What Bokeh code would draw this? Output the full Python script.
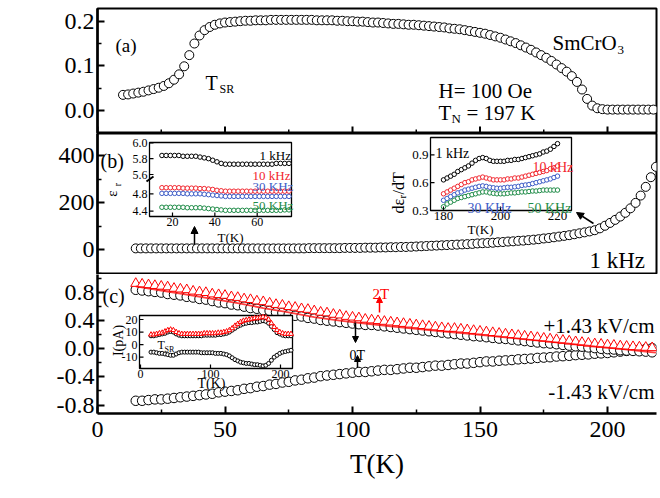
import numpy as np
from bokeh.plotting import figure
from bokeh.layouts import column
from bokeh.models import Range1d, FixedTicker, NumeralTickFormatter, Label, Arrow, NormalHead
from bokeh.core.properties import value
from bokeh.embed import file_html
from bokeh.resources import INLINE

FONT = "Liberation Serif"
RED = "#f2262e"
BLUE = "#3b5bc6"
GREEN = "#1f8c48"
MRED = "#ff0000"

# ---------------- data ----------------
# (a) magnetisation, H = 100 Oe
T_M = np.arange(10, 219, 2)  # 10 ... 218 K
M_emu = [0.035, 0.036, 0.038, 0.040, 0.042, 0.045, 0.048, 0.051, 0.055, 0.061,
         0.069, 0.081, 0.099, 0.124, 0.150, 0.168, 0.180, 0.187, 0.192, 0.195,
         0.197, 0.198, 0.199, 0.200, 0.201, 0.201, 0.202, 0.202, 0.202, 0.203,
         0.203, 0.203, 0.203, 0.203, 0.203, 0.203, 0.203, 0.203, 0.202, 0.202,
         0.202, 0.202, 0.201, 0.201, 0.200, 0.200, 0.199, 0.199, 0.198, 0.197,
         0.197, 0.196, 0.195, 0.194, 0.194, 0.193, 0.192, 0.192, 0.191, 0.190,
         0.189, 0.188, 0.187, 0.186, 0.184, 0.183, 0.182, 0.180, 0.178, 0.176,
         0.174, 0.172, 0.169, 0.166, 0.163, 0.159, 0.155, 0.151, 0.146, 0.141,
         0.136, 0.130, 0.124, 0.118, 0.111, 0.103, 0.095, 0.087, 0.077, 0.064,
         0.047, 0.026, 0.011, 0.005, 0.003, 0.002, 0.002, 0.002, 0.002, 0.002,
         0.002, 0.002, 0.002, 0.002, 0.002]

# (b) dielectric constant at 1 kHz
T_eps = np.arange(15, 220, 2)  # 15 ... 219 K
eps_1k = [6, 6, 6, 6, 6, 6, 6, 6, 6, 6,
          6, 6, 6, 6, 6, 6, 6, 6, 6, 6,
          6, 6, 6, 6, 6, 6, 6, 6, 6, 6,
          6, 6, 6, 6, 7, 7, 7, 7, 7, 7,
          7, 8, 8, 8, 8, 9, 9, 9, 10, 10,
          11, 11, 12, 12, 13, 14, 15, 16, 17, 18,
          19, 20, 21, 22, 23, 24, 25, 27, 28, 29,
          30, 32, 33, 35, 36, 38, 39, 41, 43, 45,
          48, 50, 53, 56, 59, 62, 66, 70, 74, 78,
          83, 91, 102, 114, 127, 141, 157, 176, 199, 230,
          267, 308, 352]

# (b) inset left: eps_r at low T
T_e_low = np.arange(15, 76, 2)  # 15 ... 75 K
e_low_1k = [5.84, 5.84, 5.84, 5.84, 5.84, 5.83, 5.83, 5.83, 5.83, 5.82,
            5.81, 5.80, 5.78, 5.76, 5.74, 5.73, 5.73, 5.73, 5.73, 5.73,
            5.73, 5.73, 5.73, 5.73, 5.73, 5.73, 5.73, 5.74, 5.74, 5.74, 5.74]
e_low_10k = [4.94, 4.94, 4.94, 4.94, 4.94, 4.93, 4.93, 4.93, 4.93, 4.92,
             4.92, 4.91, 4.90, 4.88, 4.87, 4.86, 4.86, 4.86, 4.86, 4.86,
             4.86, 4.86, 4.86, 4.86, 4.86, 4.86, 4.86, 4.86, 4.86, 4.86, 4.86]
e_low_30k = [4.81, 4.81, 4.81, 4.81, 4.81, 4.81, 4.80, 4.80, 4.80, 4.80,
             4.79, 4.78, 4.77, 4.76, 4.75, 4.74, 4.74, 4.74, 4.74, 4.74,
             4.74, 4.74, 4.74, 4.74, 4.74, 4.74, 4.74, 4.74, 4.74, 4.74, 4.74]
e_low_50k = [4.49, 4.49, 4.49, 4.49, 4.49, 4.49, 4.48, 4.48, 4.48, 4.48,
             4.47, 4.46, 4.45, 4.44, 4.43, 4.42, 4.42, 4.42, 4.42, 4.42,
             4.42, 4.42, 4.42, 4.42, 4.42, 4.42, 4.42, 4.42, 4.42, 4.43, 4.43]
e_low_xticks = [20, 40, 60]
e_low_hi_ticks = [5.6, 5.8, 6.0]
e_low_lo_ticks = [4.4, 4.8]

# (b) inset right: d eps_r / dT near T_N
T_de = np.arange(180, 220.01, 1.25)  # 180 ... 220 K
de_1k = [0.63, 0.65, 0.67, 0.69, 0.72, 0.74, 0.76, 0.78, 0.81, 0.84, 0.86,
         0.87, 0.86, 0.84, 0.83, 0.83, 0.83, 0.83, 0.84, 0.84, 0.85, 0.85,
         0.86, 0.87, 0.88, 0.89, 0.90, 0.91, 0.93, 0.94, 0.96, 0.99, 1.02]
de_10k = [0.48, 0.50, 0.52, 0.54, 0.56, 0.58, 0.60, 0.61, 0.63, 0.64, 0.65,
          0.66, 0.65, 0.64, 0.63, 0.63, 0.63, 0.63, 0.64, 0.64, 0.65, 0.65,
          0.66, 0.67, 0.68, 0.69, 0.70, 0.71, 0.72, 0.73, 0.75, 0.76, 0.78]
de_30k = [0.41, 0.43, 0.45, 0.47, 0.49, 0.50, 0.52, 0.53, 0.54, 0.55, 0.56,
          0.565, 0.56, 0.55, 0.545, 0.54, 0.54, 0.545, 0.55, 0.55, 0.555, 0.56,
          0.57, 0.575, 0.58, 0.59, 0.60, 0.61, 0.62, 0.63, 0.64, 0.655, 0.67]
de_50k = [0.34, 0.37, 0.39, 0.41, 0.43, 0.44, 0.45, 0.46, 0.47, 0.48, 0.49,
          0.50, 0.50, 0.49, 0.485, 0.48, 0.48, 0.48, 0.485, 0.49, 0.49, 0.495,
          0.50, 0.50, 0.505, 0.51, 0.51, 0.515, 0.52, 0.52, 0.52, 0.52, 0.52]
de_xticks = [180, 200, 220]
de_yticks = [0.3, 0.6, 0.9]

# (c) polarisation
T_P = np.arange(15, 218, 2.5)  # 15 ... 217.5 K
P_pos_0T = [0.84, 0.83, 0.82, 0.81, 0.80, 0.78, 0.77, 0.76, 0.74, 0.73,
            0.71, 0.70, 0.68, 0.66, 0.65, 0.63, 0.62, 0.60, 0.58, 0.57,
            0.55, 0.54, 0.52, 0.51, 0.49, 0.47, 0.46, 0.44, 0.43, 0.41,
            0.40, 0.39, 0.38, 0.37, 0.36, 0.35, 0.34, 0.34, 0.33, 0.32,
            0.31, 0.30, 0.29, 0.28, 0.27, 0.26, 0.25, 0.24, 0.23, 0.22,
            0.21, 0.20, 0.19, 0.18, 0.175, 0.165, 0.155, 0.145, 0.14, 0.13,
            0.12, 0.11, 0.10, 0.09, 0.08, 0.075, 0.065, 0.055, 0.045, 0.035,
            0.03, 0.02, 0.01, 0.0, -0.005, -0.01, -0.02, -0.025, -0.03, -0.035,
            -0.04, -0.05]
P_pos_2T = [0.93, 0.92, 0.91, 0.90, 0.89, 0.88, 0.86, 0.85, 0.84, 0.82,
            0.81, 0.80, 0.78, 0.77, 0.76, 0.74, 0.73, 0.71, 0.70, 0.68,
            0.67, 0.65, 0.63, 0.62, 0.60, 0.59, 0.57, 0.56, 0.54, 0.52,
            0.51, 0.49, 0.48, 0.46, 0.45, 0.44, 0.42, 0.41, 0.40, 0.39,
            0.38, 0.37, 0.36, 0.35, 0.34, 0.33, 0.32, 0.31, 0.30, 0.29,
            0.29, 0.28, 0.27, 0.26, 0.25, 0.24, 0.23, 0.22, 0.21, 0.20,
            0.19, 0.18, 0.17, 0.16, 0.15, 0.14, 0.13, 0.12, 0.11, 0.10,
            0.09, 0.08, 0.07, 0.065, 0.055, 0.05, 0.04, 0.035, 0.03, 0.025,
            0.02, 0.015]
P_neg_0T = [-0.74, -0.74, -0.73, -0.72, -0.72, -0.71, -0.70, -0.69, -0.68, -0.67,
            -0.66, -0.65, -0.64, -0.62, -0.61, -0.60, -0.59, -0.57, -0.56, -0.54,
            -0.53, -0.51, -0.50, -0.48, -0.47, -0.45, -0.44, -0.42, -0.41, -0.39,
            -0.38, -0.37, -0.36, -0.35, -0.34, -0.33, -0.33, -0.32, -0.31, -0.30,
            -0.30, -0.29, -0.28, -0.27, -0.27, -0.26, -0.25, -0.24, -0.24, -0.23,
            -0.22, -0.21, -0.21, -0.20, -0.19, -0.18, -0.18, -0.17, -0.165, -0.16,
            -0.15, -0.145, -0.14, -0.13, -0.125, -0.12, -0.11, -0.105, -0.10, -0.09,
            -0.085, -0.08, -0.07, -0.065, -0.06, -0.05, -0.04, -0.03, -0.02, -0.01,
            0.0, 0.01]
T_fit = [15, 25, 35, 45, 55, 65, 75, 85, 95, 105, 115, 125, 135, 145, 155, 165,
         175, 185, 195, 205, 215, 219]
P_fit = [0.89, 0.83, 0.77, 0.71, 0.65, 0.58, 0.52, 0.45, 0.40, 0.36, 0.32, 0.285,
         0.25, 0.215, 0.18, 0.145, 0.11, 0.075, 0.035, 0.0, -0.04, -0.055]

# (c) inset: pyroelectric current
T_I = np.arange(15, 216, 4)  # 15 ... 215 K
I_2T = [8, 8, 8.5, 9, 9.5, 10.5, 11.5, 12, 11.5, 10,
        9, 8.5, 8.5, 8.5, 8.5, 8.5, 8.5, 8.5, 8.5, 9,
        9, 9, 9, 9, 9.5, 9.5, 10, 10.5, 11.5, 13,
        15, 16.5, 18, 19, 19.5, 20, 20.5, 21, 21, 21.5,
        22, 21.5, 20, 17, 14, 11.5, 10, 9, 8.5, 8.5,
        8.5]
I_pos = [7, 7, 7.5, 8, 8.5, 9, 10, 10.5, 10, 8.5,
         7.5, 7, 7, 7, 7, 7, 7, 7, 7, 7.5,
         7.5, 7.5, 7.5, 7.5, 8, 8, 8.5, 9, 10, 11.5,
         13, 14.5, 15.5, 16.5, 17, 17.5, 17.5, 18, 18, 18.5,
         19, 18.5, 17, 14.5, 12, 9.5, 8.5, 7.5, 7, 7,
         7]
I_neg = [-6, -6, -6.5, -7, -7, -7.5, -8, -8.5, -8.5, -7.5,
         -6.5, -6, -6, -6, -6, -6, -6, -6, -6.5, -6.5,
         -6.5, -6.5, -6.5, -7, -7, -7, -7.5, -8, -9, -10.5,
         -12, -13, -14, -14.5, -15, -15, -15.5, -16, -16, -16.5,
         -17, -16.5, -15, -12.5, -10, -8.5, -7, -6, -5.5, -5,
         -4.5]
I_xticks = [0, 100, 200]
I_yticks = [-10, 0, 10, 20]

# main axes ticks
T_ticks = [0, 50, 100, 150, 200]
T_minor = [25, 75, 125, 175]
M_ticks = [0.0, 0.1, 0.2]
M_minor = [0.05, 0.15]
eps_ticks = [0, 200, 400]
eps_minor = [-100, 100, 300]
P_ticks = [-0.8, -0.4, 0.0, 0.4, 0.8]
P_minor = [-0.6, -0.2, 0.2, 0.6, 1.0]

# ---------------- geometry (pixels of the page) ----------------
W = 660
FL, FR = 97, 656
A_T, A_B = 8, 133
B_T, B_B = 133, 274
C_T, C_B = 274, 413


def lin(p0, v0, p1, v1):
    k = (v1 - v0) / (p1 - p0)
    return lambda p: v0 + (p - p0) * k


fx = lin(97, 0.0, 607, 200.0)
fya = lin(110.0, 0.0, 20.7, 0.2)
fyb = lin(249.3, 0.0, 155.0, 400.0)
fyc = lin(348.3, 0.0, 292.1, 0.8)

xr = Range1d(fx(FL), fx(FR))


def style_axis(ax):
    ax.axis_line_width = 2.5
    ax.axis_line_color = "black"
    ax.major_tick_line_width = 2
    ax.minor_tick_line_width = 1.5
    ax.major_tick_in = 7
    ax.major_tick_out = 0
    ax.minor_tick_in = 4
    ax.minor_tick_out = 0
    ax.major_label_text_font = FONT
    ax.major_label_text_font_size = "24px"
    ax.major_label_text_color = "black"
    ax.major_label_standoff = 3
    ax.axis_label_text_color = "black"


def base_fig(h, top_px, bot_px, fy, bt, bb, xaxis):
    p = figure(width=W, height=h, x_range=xr, y_range=Range1d(fy(bot_px), fy(top_px)),
               output_backend="svg", toolbar_location=None,
               min_border_left=FL, min_border_right=W - FR,
               min_border_top=bt, min_border_bottom=bb,
               x_axis_location="below" if xaxis else None)
    p.xgrid.visible = False
    p.ygrid.visible = False
    p.background_fill_color = "white"
    p.border_fill_color = "white"
    p.outline_line_color = "black"
    p.outline_line_width = 2
    p.outline_line_alpha = 1
    for ax in p.axis:
        style_axis(ax)
    return p


def put(p, fxp, fyp, xpx, ypx, text, size, color="black", align="left",
        baseline="alphabetic", angle=0.0):
    p.add_layout(Label(x=fxp(xpx), y=fyp(ypx), text=text, text_font=FONT,
                       text_font_size=f"{size}px", text_color=color,
                       text_align=align, text_baseline=baseline, angle=angle))


def arrow(p, fxp, fyp, x0, y0, x1, y1, color="black", size=7, lw=1.5):
    p.add_layout(Arrow(end=NormalHead(size=size, fill_color=color, line_color=color),
                       x_start=fxp(x0), y_start=fyp(y0), x_end=fxp(x1), y_end=fyp(y1),
                       line_color=color, line_width=lw))


def inset_frame(p, xn, yn, fxi, fyi, box):
    L, R, T, B = box
    p.quad(left=[fxi(L)], right=[fxi(R)], top=[fyi(T)], bottom=[fyi(B)],
           fill_color="white", line_color="black", line_width=1.3,
           x_range_name=xn, y_range_name=yn)


def inset_xaxis(p, xn, yn, fyi, B, ticks, labels, fs):
    n = len(ticks)
    p.segment(x0=list(ticks), y0=[fyi(B)] * n, x1=list(ticks), y1=[fyi(B - 4)] * n,
              line_color="black", line_width=1.2, x_range_name=xn, y_range_name=yn)
    p.text(x=list(ticks), y=[fyi(B + 1.5)] * n, text=list(labels),
           text_font=value(FONT), text_font_size=value(f"{fs}px"),
           text_align="center", text_baseline="top", text_color="black",
           x_range_name=xn, y_range_name=yn)


def inset_yaxis(p, xn, yn, fxi, L, ticks, labels, fs):
    n = len(ticks)
    p.segment(x0=[fxi(L)] * n, y0=list(ticks), x1=[fxi(L + 4)] * n, y1=list(ticks),
              line_color="black", line_width=1.2, x_range_name=xn, y_range_name=yn)
    p.text(x=[fxi(L - 2)] * n, y=list(ticks), text=list(labels),
           text_font=value(FONT), text_font_size=value(f"{fs}px"),
           text_align="right", text_baseline="middle", text_color="black",
           x_range_name=xn, y_range_name=yn)


# ---------------- panel (a) ----------------
pa = base_fig(A_B, A_T, A_B, fya, A_T, 0, False)
pa.yaxis.ticker = FixedTicker(ticks=M_ticks, minor_ticks=M_minor)
pa.yaxis.formatter = NumeralTickFormatter(format="0.0")
# inward ticks on the bottom edge of panel (a) (no labels)
pa.segment(x0=T_ticks, y0=[fya(A_B)] * len(T_ticks), x1=T_ticks, y1=[fya(A_B - 7)] * len(T_ticks),
           line_color="black", line_width=2)
pa.segment(x0=T_minor, y0=[fya(A_B)] * len(T_minor), x1=T_minor, y1=[fya(A_B - 4)] * len(T_minor),
           line_color="black", line_width=1.5)
pa.scatter(T_M, M_emu, marker="circle", size=9, fill_color="white",
           line_color="black", line_width=1)
put(pa, fx, fya, 31, 73, "M(emu/g)", 27, align="center", baseline="middle", angle=np.pi / 2)
put(pa, fx, fya, 115, 45, "(a)", 19)
put(pa, fx, fya, 205, 82, "T", 20)
put(pa, fx, fya, 219, 88, "SR", 12)
put(pa, fx, fya, 552, 42, "SmCrO", 21)
put(pa, fx, fya, 617, 49, "3", 13)
put(pa, fx, fya, 438, 90, "H= 100 Oe", 21)
put(pa, fx, fya, 438, 112, "T", 21)
put(pa, fx, fya, 451, 118, "N", 13)
put(pa, fx, fya, 466, 112, "= 197 K", 21)

# ---------------- panel (b) ----------------
pb = base_fig(B_B - B_T, B_T, B_B, fyb, 0, 0, False)
pb.yaxis.ticker = FixedTicker(ticks=eps_ticks, minor_ticks=eps_minor)
pb.scatter(T_eps, eps_1k, marker="circle", size=9, fill_color="white",
           line_color="black", line_width=1)
put(pb, fx, fyb, 30, 198, "\u03b5", 28, align="center", baseline="middle", angle=np.pi / 2)
put(pb, fx, fyb, 39, 185, "r", 18, align="center", baseline="middle", angle=np.pi / 2)
put(pb, fx, fyb, 100, 160, "(b)", 20)
put(pb, fx, fyb, 589, 260, "1 kHz", 23)
arrow(pb, fx, fyb, 194, 244, 194, 226)
arrow(pb, fx, fyb, 593, 223, 576, 212)

# inset left (low T eps_r), broken axis
fx_bl = lin(172, 20.0, 256.7, 60.0)
fy_hi = lin(142.3, 6.0, 174.0, 5.6)
fy_lo = lin(193.3, 4.8, 210.7, 4.4)
BL = (149, 291, 142, 216)
# inset right (d eps / dT)
fx_br = lin(443, 180.0, 557, 220.0)
fy_br = lin(154.3, 0.9, 210.0, 0.3)
BR = (430, 571, 137, 210)

pb.extra_x_ranges = {"bl": Range1d(fx_bl(FL), fx_bl(FR)),
                     "br": Range1d(fx_br(FL), fx_br(FR))}
pb.extra_y_ranges = {"blh": Range1d(fy_hi(B_B), fy_hi(B_T)),
                     "bll": Range1d(fy_lo(B_B), fy_lo(B_T)),
                     "br": Range1d(fy_br(B_B), fy_br(B_T))}

inset_frame(pb, "bl", "bll", fx_bl, fy_lo, BL)
for ys, c in [(e_low_10k, RED), (e_low_30k, BLUE), (e_low_50k, GREEN)]:
    pb.scatter(T_e_low, ys, marker="circle", size=4.5, fill_color="white", line_color=c,
               line_width=1, x_range_name="bl", y_range_name="bll")
pb.scatter(T_e_low, e_low_1k, marker="circle", size=4.5, fill_color="white", line_color="black",
           line_width=1, x_range_name="bl", y_range_name="blh")
inset_xaxis(pb, "bl", "bll", fy_lo, BL[3], e_low_xticks, [str(t) for t in e_low_xticks], 12)
inset_yaxis(pb, "bl", "blh", fx_bl, BL[0], e_low_hi_ticks, [f"{t:.1f}" for t in e_low_hi_ticks], 12)
inset_yaxis(pb, "bl", "bll", fx_bl, BL[0], e_low_lo_ticks, [f"{t:.1f}" for t in e_low_lo_ticks], 12)
pb.segment(x0=[fx_bl(146)], y0=[fy_lo(181)], x1=[fx_bl(153)], y1=[fy_lo(176)],
           line_color="black", line_width=2, x_range_name="bl", y_range_name="bll")
put(pb, fx, fyb, 111, 193, "\u03b5", 15, align="center", baseline="middle", angle=np.pi / 2)
put(pb, fx, fyb, 117, 184, "r", 10, align="center", baseline="middle", angle=np.pi / 2)
put(pb, fx, fyb, 230, 237, "T(K)", 13, align="center", baseline="middle")
put(pb, fx, fyb, 259, 155, "1 kHz", 13)
put(pb, fx, fyb, 252, 175, "10 kHz", 13, color=RED)
put(pb, fx, fyb, 252, 186, "30 KHz", 13, color=BLUE)
put(pb, fx, fyb, 252, 205, "50 KHz", 13, color=GREEN)

inset_frame(pb, "br", "br", fx_br, fy_br, BR)
for ys, c in [(de_1k, "black"), (de_10k, RED), (de_30k, BLUE), (de_50k, GREEN)]:
    pb.scatter(T_de, ys, marker="circle", size=4.5, fill_color="white", line_color=c,
               line_width=1, x_range_name="br", y_range_name="br")
inset_xaxis(pb, "br", "br", fy_br, BR[3], de_xticks, [str(t) for t in de_xticks], 13)
inset_yaxis(pb, "br", "br", fx_br, BR[0], de_yticks, [f"{t:.1f}" for t in de_yticks], 13)
put(pb, fx, fyb, 398, 213, "d\u03b5", 16, angle=np.pi / 2)
put(pb, fx, fyb, 401, 198, "r", 11, angle=np.pi / 2)
put(pb, fx, fyb, 398, 194, "/dT", 16, angle=np.pi / 2)
put(pb, fx, fyb, 480, 229, "T(K)", 13, align="center", baseline="middle")
put(pb, fx, fyb, 435, 153, "1 kHz", 14)
put(pb, fx, fyb, 532, 167, "10 kHz", 14, color=RED)
put(pb, fx, fyb, 467, 208, "30 KHz", 14, color=BLUE)
put(pb, fx, fyb, 527, 208, "50 KHz", 14, color=GREEN)

# ---------------- panel (c) ----------------
pc = base_fig(498 - C_T, C_T, C_B, fyc, 0, 498 - C_B, True)
pc.outline_line_color = None
pc.yaxis.ticker = FixedTicker(ticks=P_ticks, minor_ticks=P_minor)
pc.yaxis.formatter = NumeralTickFormatter(format="0.0")
pc.xaxis.ticker = FixedTicker(ticks=T_ticks, minor_ticks=T_minor)
pc.xaxis.major_label_standoff = 8
pc.xaxis.axis_label = "T(K)"
pc.xaxis.axis_label_text_font = FONT
pc.xaxis.axis_label_text_font_size = "27px"
pc.xaxis.axis_label_text_font_style = "normal"
pc.xaxis.axis_label_text_color = "black"
pc.xaxis.axis_label_standoff = 9

pc.scatter(T_P, P_neg_0T, marker="circle", size=9.5, fill_color="white",
           line_color="black", line_width=1)
pc.scatter(T_P, P_pos_0T, marker="circle", size=9.5, fill_color="white",
           line_color="black", line_width=1)
pc.scatter(T_P, P_pos_2T, marker="triangle", size=10, fill_color="white",
           line_color=MRED, line_width=1)
pc.line(T_fit, P_fit, line_color=MRED, line_width=1.8, line_alpha=0.75)

put(pc, fx, fyc, 31, 348, "P(\u03bcC/cm\u00b2)", 27, align="center", baseline="middle", angle=np.pi / 2)
put(pc, fx, fyc, 102, 295, "(c)", 20)
put(pc, fx, fyc, 654, 325, "+1.43 kV/cm", 21, align="right")
put(pc, fx, fyc, 654, 391, "-1.43 kV/cm", 21, align="right")
put(pc, fx, fyc, 372, 293, "2T", 15, color=MRED)
put(pc, fx, fyc, 349, 355, "0T", 14)
arrow(pc, fx, fyc, 379, 312, 379, 296, color=MRED, size=6)
arrow(pc, fx, fyc, 355, 322, 355, 342, size=6)
arrow(pc, fx, fyc, 357, 367, 357, 355, size=6)

fx_ic = lin(140, 0.0, 280, 200.0)
fy_ic = lin(344.1, 0.0, 319.0, 20.0)
IC = (139, 292, 315, 368)
pc.extra_x_ranges = {"ic": Range1d(fx_ic(FL), fx_ic(FR))}
pc.extra_y_ranges = {"ic": Range1d(fy_ic(C_B), fy_ic(C_T))}
inset_frame(pc, "ic", "ic", fx_ic, fy_ic, IC)
pc.scatter(T_I, I_neg, marker="circle", size=4, fill_color="white", line_color="black",
           line_width=1, x_range_name="ic", y_range_name="ic")
pc.scatter(T_I, I_pos, marker="circle", size=4, fill_color="white", line_color="black",
           line_width=1, x_range_name="ic", y_range_name="ic")
pc.scatter(T_I, I_2T, marker="triangle", size=5, fill_color="white", line_color=MRED,
           line_width=1, x_range_name="ic", y_range_name="ic")
inset_xaxis(pc, "ic", "ic", fy_ic, IC[3], I_xticks, [str(t) for t in I_xticks], 12)
inset_yaxis(pc, "ic", "ic", fx_ic, IC[0], I_yticks, [str(t) for t in I_yticks], 12)
put(pc, fx, fyc, 118, 340, "I(pA)", 14, align="center", baseline="middle", angle=np.pi / 2)
put(pc, fx, fyc, 211, 383, "T(K)", 14, align="center", baseline="middle")
put(pc, fx, fyc, 157, 344, "T", 12)
put(pc, fx, fyc, 164, 349, "SR", 8)

layout = column(pa, pb, pc, spacing=0)
open("out.html", "w").write(file_html(layout, INLINE))
